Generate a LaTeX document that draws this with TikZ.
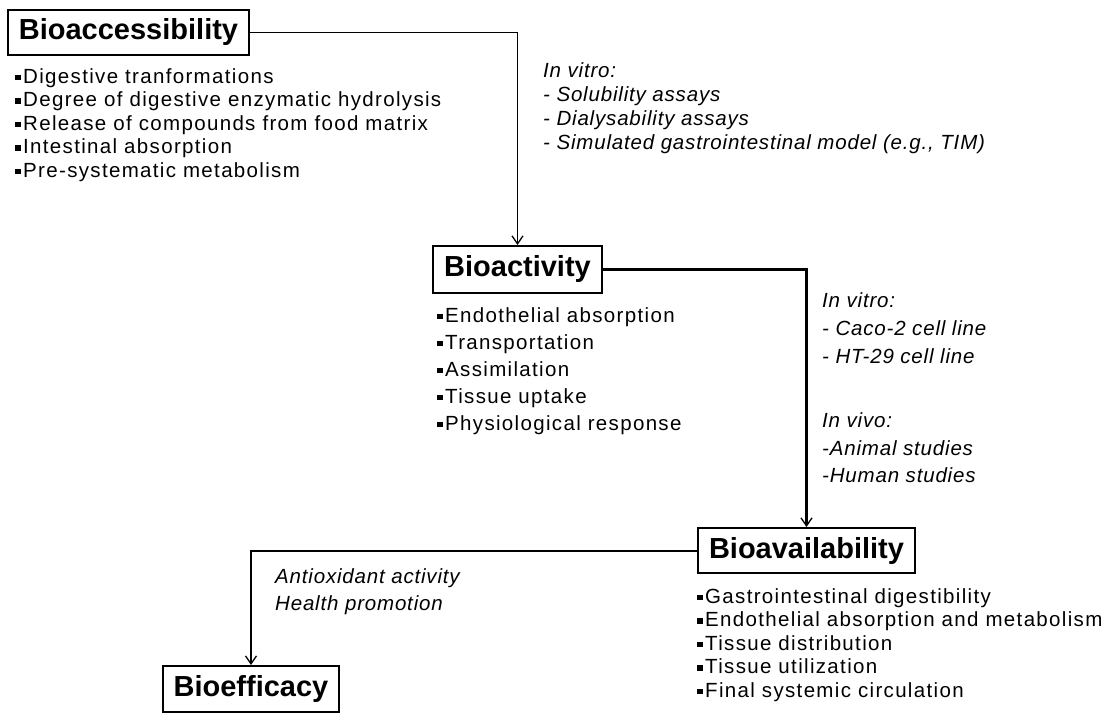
\documentclass[tikz,border=0pt]{standalone}
\usepackage{fontspec}
\setmainfont{Liberation Sans}
\usetikzlibrary{arrows.meta}
\newcommand{\bul}{\raisebox{3pt}{\rule{5.5pt}{5.5pt}}\hspace{2.5pt}}
\newcommand{\body}[1]{\fontsize{20.5}{#1}\selectfont\addfontfeature{LetterSpace=6.5}}
\newcommand{\note}[1]{\fontsize{20.5}{#1}\selectfont\itshape\addfontfeature{LetterSpace=4}}
\begin{document}
\begin{tikzpicture}[x=1pt,y=-1pt]
    \tikzset{stage/.style = {draw,line width=2pt,inner sep=0pt,font=\fontsize{29}{32}\selectfont\bfseries}}
    \tikzset{txt/.style = {anchor=north west,inner sep=0pt,align=left}}
    \tikzset{edge/.style = {line width=1.5pt,-{Straight Barb[length=8pt,width=11pt,line width=1.3pt]}}}
    \useasboundingbox (0,0) rectangle (1118,719);
    \node[stage,minimum width=241pt,minimum height=45pt] (acc) at (128.5,32.5) {Bioaccessibility};
    \node[stage,minimum width=169pt,minimum height=47pt] (act) at (517.5,269.5) {Bioactivity};
    \node[stage,minimum width=217pt,minimum height=45pt] (avail) at (806.5,550.5) {Bioavailability};
    \node[stage,minimum width=176pt,minimum height=46pt] (eff) at (251,689) {Bioefficacy};
    \node[txt,font=\body{23.5}] (acclist) at (15,68.4) {\bul Digestive tranformations\\
      \bul Degree of digestive enzymatic hydrolysis\\ \bul Release of compounds from food matrix\\
      \bul Intestinal absorption\\ \bul Pre-systematic metabolism};
    \node[txt,font=\note{24}] (vitro1) at (543,62.6) {In vitro:\\
      - Solubility assays\\ - Dialysability assays\\ - Simulated gastrointestinal model (e.g., TIM)};
    \node[txt,font=\body{27}] (actlist) at (437,307.4) {\bul Endothelial absorption\\
      \bul Transportation\\ \bul Assimilation\\ \bul Tissue uptake\\ \bul Physiological response};
    \node[txt,font=\note{28}] (vitro2) at (822,292.6) {In vitro:\\
      - Caco-2 cell line\\ - HT-29 cell line};
    \node[txt,font=\note{27.5}] (vivo) at (822,412.6) {In vivo:\\
      -Animal studies\\ -Human studies};
    \node[txt,font=\body{23.5}] (availlist) at (697,588.4) {\bul Gastrointestinal digestibility\\
      \bul Endothelial absorption and metabolism\\ \bul Tissue distribution\\ \bul Tissue utilization\\
      \bul Final systemic circulation};
    \node[txt,font=\note{27}] (effect) at (275,568.6) {Antioxidant activity\\
      Health promotion};
    \draw[edge] (acc.east) -| (act.north);
    \draw[edge,line width=3pt] (act.east) -| (avail.north);
    \draw[edge,line width=2pt] (avail.west) -| (eff.north);
\end{tikzpicture}
\end{document}
